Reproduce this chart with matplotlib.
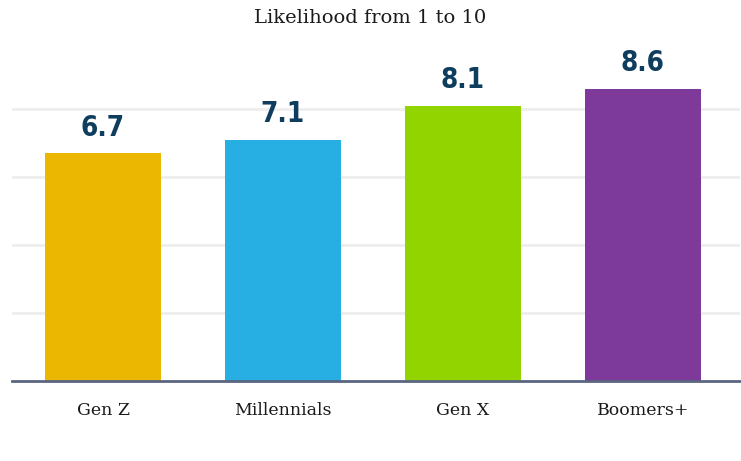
import numpy as np
import matplotlib.pyplot as plt

categories = ['Gen Z', 'Millennials', 'Gen X', 'Boomers+']
values = [6.7, 7.1, 8.1, 8.6]
colors = ['#ebb700', '#27aee3', '#92d400', '#7d3a9a']


def main():
	fig = plt.figure(figsize=(7.41, 4.61), dpi=100)
	ax = fig.add_axes([12 / 741, 80 / 461, 728 / 741, 340 / 461])

	x = np.arange(len(categories))
	ax.bar(x, values, width=0.644, color=colors, zorder=2)

	for xi, v in zip(x, values):
		ax.annotate('%.1f' % v, (xi, v), xytext=(0, 8), textcoords='offset points',
			ha='center', va='bottom', fontsize=20, fontweight='heavy',
			color='#0e3d5e', family='DejaVu Sans', fontstretch='condensed')

	ax.set_xlim(-0.5056, 3.539)
	ax.set_ylim(0, 10)
	ax.set_yticks([2, 4, 6, 8])
	ax.yaxis.grid(True, color='#eeeeee', linewidth=2, zorder=0)
	ax.tick_params(axis='y', left=False, labelleft=False)
	ax.set_xticks(x)
	ax.set_xticklabels(categories, family='DejaVu Serif', fontsize=12.5, color='#1a1a1a')
	ax.tick_params(axis='x', length=0, pad=15)

	for s in ['top', 'right', 'left']:
		ax.spines[s].set_visible(False)
	ax.spines['bottom'].set_color('#5a6580')
	ax.spines['bottom'].set_linewidth(2)
	ax.spines['bottom'].set_zorder(3)

	fig.text(370 / 741, 1 - 18 / 461, 'Likelihood from 1 to 10', ha='center', va='center',
		family='DejaVu Serif', fontsize=14, color='#1a1a1a')

	fig.savefig('out.png', dpi=100)


if __name__ == '__main__':
	main()
